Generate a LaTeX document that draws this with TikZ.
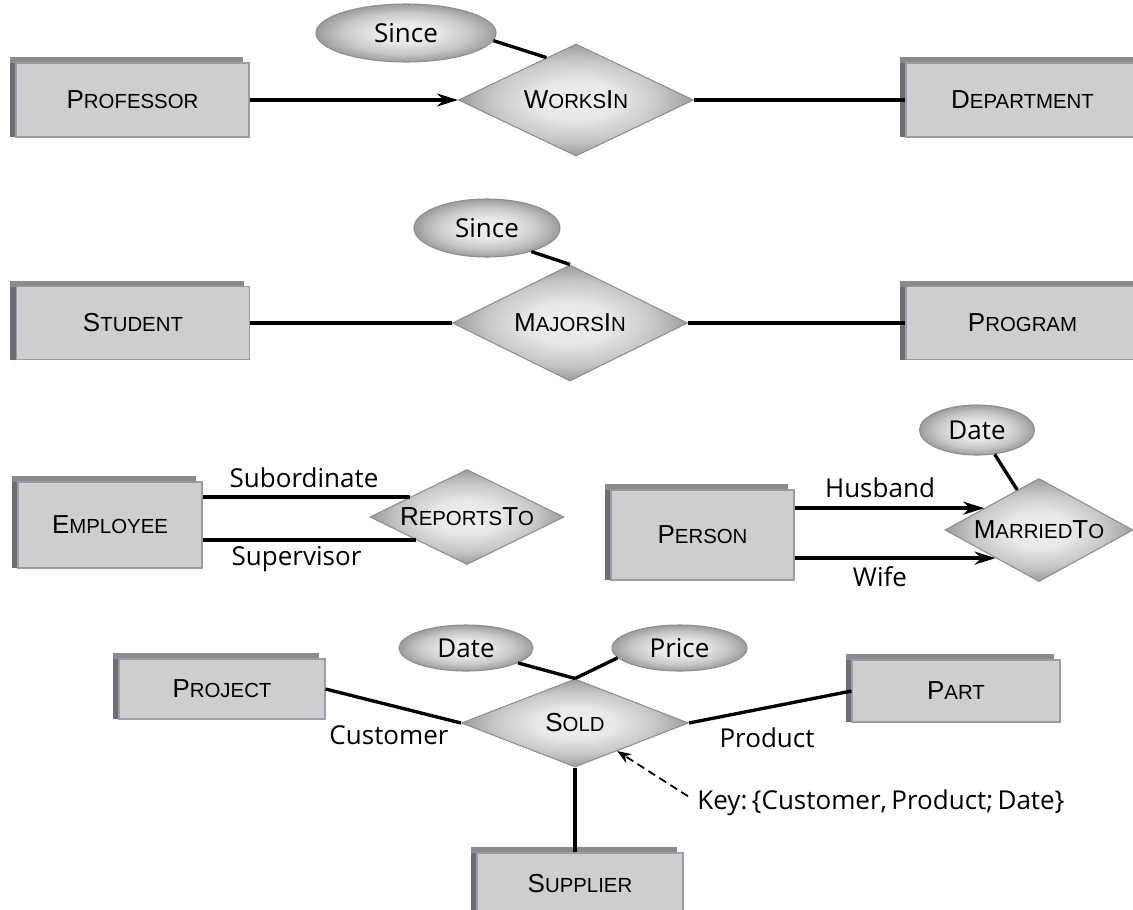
\documentclass[tikz,border=0pt]{standalone}
\usepackage{fontspec}
\setmainfont{Open Sans}
\newfontfamily\entfont{Liberation Sans}
\usepackage{tikz}
\usetikzlibrary{arrows.meta,calc,shapes.geometric,positioning}
\definecolor{boxfill}{HTML}{CDCED0}
\definecolor{boxline}{HTML}{9C9DA0}
\definecolor{boxtop}{HTML}{8A8B8E}
\definecolor{boxleft}{HTML}{6D6E71}
\definecolor{shadein}{HTML}{EEEEEE}
\definecolor{shademid}{HTML}{C6C6C6}
\definecolor{shadeout}{HTML}{9C9C9C}
\definecolor{rimgray}{HTML}{8E8E8E}
\pgfdeclareradialshading{softshade}{\pgfpoint{0bp}{0bp}}{color(0bp)=(shadein); color(9bp)=(shadein!92!shadeout); color(18bp)=(shademid); color(25bp)=(shadeout); color(50bp)=(shadeout)}
\newcommand{\entsc}[2]{#1{\fontsize{11.6}{11.6}\selectfont #2}}

\begin{document}
\begin{tikzpicture}[x=0.2mm,y=-0.2mm,
entity/.style={draw=boxline,line width=0.6pt,fill=boxfill,inner sep=0pt,font=\entfont\fontsize{14.8}{14.8}\selectfont,
  preaction={fill=boxtop,transform canvas={xshift=-1.2mm,yshift=1.2mm}},
  preaction={fill=boxleft,transform canvas={xshift=-1.2mm}}},
rel/.style={diamond,shape aspect=2,draw=rimgray,line width=0.6pt,shading=softshade,inner sep=0pt,font=\entfont\fontsize{14.8}{14.8}\selectfont},
attr/.style={ellipse,draw=rimgray,line width=0.6pt,shading=softshade,inner sep=0pt,font=\fontsize{14.8}{17}\selectfont},
link/.style={line width=1.9pt},
lbl/.style={anchor=base,inner sep=0pt,font=\fontsize{14.8}{17}\selectfont},
keyline/.style={line width=1pt,dash pattern=on 1.6mm off 1mm,-{Stealth[length=2.8mm,width=2.1mm]}},
tip/.style={-{Stealth[length=4.2mm,width=2.6mm]}}]
\useasboundingbox (0,0) rectangle (1133,909);

\node[entity,minimum width=46.6mm,minimum height=14.8mm] (prof) at (132.5,100) {\entsc{P}{ROFESSOR}};
\node[entity,minimum width=46.6mm,minimum height=14.8mm] (dept) at (1022.5,100) {\entsc{D}{EPARTMENT}};
\node[rel,minimum width=47mm,minimum height=22.4mm] (works) at (576,100) {\entsc{W}{ORKS}\entsc{I}{N}};
\node[attr,minimum width=36mm,minimum height=11.6mm] (since1) at (406,33) {Since};
\draw[link,tip] (prof) -- (works);
\draw[link] (works) -- (dept);
\draw[link] (since1.-5) -- ($(works.west)!0.75!(works.north)$);

\node[entity,minimum width=46.6mm,minimum height=14.6mm] (stud) at (133,323) {\entsc{S}{TUDENT}};
\node[entity,minimum width=46.6mm,minimum height=14.6mm] (prog) at (1022.5,323) {\entsc{P}{ROGRAM}};
\node[rel,minimum width=47mm,minimum height=23.2mm] (majors) at (570,323) {\entsc{M}{AJORS}\entsc{I}{N}};
\node[attr,minimum width=29.2mm,minimum height=11.6mm] (since2) at (487,228) {Since};
\draw[link] (stud) -- (majors);
\draw[link] (majors) -- (prog);
\draw[link] (since2.-28) -- (majors.north);

\node[entity,minimum width=36.8mm,minimum height=17.2mm] (empl) at (110,525) {\entsc{E}{MPLOYEE}};
\node[rel,minimum width=38.8mm,minimum height=19mm] (reports) at (467,517) {\entsc{R}{EPORTS}\entsc{T}{O}};
\coordinate (subend) at ($(reports.west)!0.42!(reports.north)$);
\coordinate (supend) at ($(reports.west)!0.48!(reports.south)$);
\draw[link] (empl.east |- subend) -- (subend);
\draw[link] (empl.east |- supend) -- (supend);
\node[lbl] (subl) at (304,487) {Subordinate};
\node[lbl] (supl) at (296.5,565) {Supervisor};

\node[entity,minimum width=36.6mm,minimum height=18mm] (pers) at (702.5,535) {\entsc{P}{ERSON}};
\node[rel,minimum width=37.6mm,minimum height=20.6mm] (married) at (1039,530) {\entsc{M}{ARRIED}\entsc{T}{O}};
\node[attr,minimum width=23mm,minimum height=10mm] (date1) at (977,430) {Date};
\coordinate (husend) at ($(married.west)!0.42!(married.north)$);
\coordinate (wifend) at ($(married.west)!0.54!(married.south)$);
\draw[link,tip] (pers.east |- husend) -- (husend);
\draw[link,tip] (pers.east |- wifend) -- (wifend);
\draw[link] (date1.-54) -- ($(married.west)!0.77!(married.north)$);
\node[lbl] (husl) at (880,497.5) {Husband};
\node[lbl] (wifel) at (880,586) {Wife};

\node[entity,minimum width=41.2mm,minimum height=12mm] (proj) at (222,689) {\entsc{P}{ROJECT}};
\node[entity,minimum width=41.6mm,minimum height=12.4mm] (part) at (956,691) {\entsc{P}{ART}};
\node[entity,minimum width=41.2mm,minimum height=12.4mm] (supp) at (580,884) {\entsc{S}{UPPLIER}};
\node[rel,minimum width=45.4mm,minimum height=17.6mm] (sold) at (575,723) {\entsc{S}{OLD}};
\node[attr,minimum width=26.8mm,minimum height=9.2mm] (date2) at (466,648) {Date};
\node[attr,minimum width=27mm,minimum height=9.2mm] (price) at (679.5,648) {Price};
\draw[link] (proj.east) -- (sold.west);
\draw[link] (sold.east) -- (part.west);
\draw[link] (sold.south) -- (sold.south |- supp.north);
\draw[link] (date2.-16) -- (sold.north);
\draw[link] (price.189) -- (sold.north);
\node[lbl] (custl) at (389,744) {Customer};
\node[lbl] (prodl) at (767,747) {Product};
\node[lbl,anchor=base west] (key) at (697,809) {Key:\,\{Customer,\,Product;\,Date\}};
\draw[keyline] ([xshift=-1.8mm,yshift=1.2mm]key.west) -- ($(sold.east)!0.63!(sold.south)$);
\end{tikzpicture}
\end{document}
